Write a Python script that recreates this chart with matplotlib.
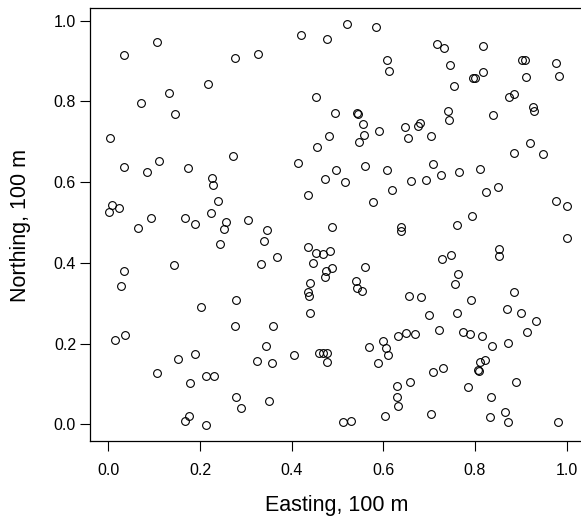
import matplotlib
matplotlib.use('Agg')

import matplotlib.pyplot as plt

plt.rcParams['font.family'] = ['Liberation Sans', 'DejaVu Sans']

# Point locations (easting, northing in units of 100 m)
easting = [
    0.106, 0.034, 0.276, 0.217, 0.132, 0.071, 0.146, 0.004, 0.327, 0.420,
    0.476, 0.521, 0.584, 0.607, 0.613, 0.452, 0.495, 0.543, 0.545, 0.556,
    0.591, 0.648, 0.654, 0.558, 0.546, 0.481, 0.455, 0.718, 0.732, 0.817,
    0.745, 0.902, 0.908, 0.977, 0.983, 0.817, 0.795, 0.800, 0.911, 0.755,
    0.874, 0.884, 0.926, 0.929, 0.742, 0.744, 0.840, 0.676, 0.680, 0.703,
    0.921, 0.884, 0.949, 0.271, 0.111, 0.035, 0.084, 0.173, 0.227, 0.229,
    0.239, 0.008, 0.023, 0.001, 0.092, 0.064, 0.168, 0.188, 0.224, 0.257,
    0.253, 0.305, 0.243, 0.144, 0.035, 0.027, 0.278, 0.414, 0.496, 0.473,
    0.517, 0.561, 0.608, 0.660, 0.619, 0.577, 0.436, 0.346, 0.340, 0.333,
    0.368, 0.488, 0.638, 0.639, 0.436, 0.453, 0.468, 0.484, 0.447, 0.489,
    0.475, 0.473, 0.559, 0.440, 0.436, 0.438, 0.540, 0.543, 0.554, 0.656,
    0.708, 0.694, 0.726, 0.765, 0.810, 0.825, 0.850, 0.977, 1.000, 0.793,
    0.761, 1.000, 0.853, 0.852, 0.748, 0.727, 0.763, 0.757, 0.682, 0.884,
    0.791, 0.202, 0.276, 0.036, 0.015, 0.190, 0.151, 0.107, 0.178, 0.212,
    0.231, 0.279, 0.290, 0.175, 0.167, 0.212, 0.441, 0.360, 0.343, 0.325,
    0.356, 0.406, 0.460, 0.469, 0.478, 0.476, 0.351, 0.511, 0.529, 0.569,
    0.599, 0.606, 0.610, 0.589, 0.633, 0.650, 0.659, 0.629, 0.629, 0.633,
    0.604, 0.869, 0.900, 0.932, 0.914, 0.700, 0.760, 0.668, 0.722, 0.774,
    0.789, 0.815, 0.838, 0.873, 0.811, 0.821, 0.807, 0.808, 0.730, 0.709,
    0.785, 0.890, 0.835, 0.705, 0.865, 0.833, 0.872, 0.980,
]
northing = [
    0.947, 0.914, 0.908, 0.842, 0.821, 0.795, 0.769, 0.708, 0.916, 0.965,
    0.955, 0.992, 0.985, 0.903, 0.875, 0.811, 0.771, 0.772, 0.769, 0.744,
    0.727, 0.737, 0.710, 0.716, 0.700, 0.713, 0.687, 0.943, 0.932, 0.938,
    0.889, 0.902, 0.902, 0.895, 0.862, 0.873, 0.858, 0.858, 0.860, 0.837,
    0.811, 0.818, 0.786, 0.775, 0.777, 0.753, 0.767, 0.740, 0.747, 0.715,
    0.697, 0.672, 0.669, 0.664, 0.653, 0.637, 0.624, 0.634, 0.611, 0.594,
    0.553, 0.543, 0.536, 0.527, 0.512, 0.486, 0.512, 0.497, 0.523, 0.500,
    0.483, 0.507, 0.447, 0.394, 0.379, 0.343, 0.308, 0.647, 0.629, 0.608,
    0.601, 0.640, 0.630, 0.603, 0.581, 0.551, 0.569, 0.482, 0.454, 0.398,
    0.414, 0.490, 0.488, 0.479, 0.440, 0.424, 0.423, 0.429, 0.400, 0.388,
    0.380, 0.366, 0.389, 0.349, 0.328, 0.318, 0.355, 0.339, 0.331, 0.318,
    0.645, 0.606, 0.617, 0.624, 0.632, 0.576, 0.587, 0.552, 0.540, 0.516,
    0.493, 0.461, 0.435, 0.417, 0.419, 0.409, 0.373, 0.347, 0.315, 0.327,
    0.308, 0.290, 0.244, 0.222, 0.209, 0.174, 0.163, 0.128, 0.103, 0.119,
    0.120, 0.067, 0.041, 0.021, 0.008, -0.001, 0.276, 0.243, 0.194, 0.157,
    0.152, 0.172, 0.176, 0.177, 0.177, 0.154, 0.057, 0.006, 0.009, 0.191,
    0.207, 0.190, 0.173, 0.152, 0.218, 0.227, 0.104, 0.095, 0.069, 0.045,
    0.022, 0.287, 0.276, 0.257, 0.230, 0.272, 0.275, 0.223, 0.235, 0.230,
    0.223, 0.220, 0.194, 0.201, 0.154, 0.159, 0.134, 0.132, 0.140, 0.129,
    0.093, 0.106, 0.067, 0.027, 0.032, 0.019, 0.007, 0.007,
]
ticks = [0.0, 0.2, 0.4, 0.6, 0.8, 1.0]
tick_labels = ['0.0', '0.2', '0.4', '0.6', '0.8', '1.0']

fig = plt.figure(figsize=(5.81, 5.16), dpi=100)
# Axes box runs past the right edge of the image, as in the original (cropped)
ax = fig.add_axes([90 / 581, 75 / 516, 495 / 581, 433 / 516])

ax.plot(easting, northing, linestyle='none', marker='o', markersize=5.6,
        markerfacecolor='none', markeredgecolor='black', markeredgewidth=0.8)

ax.set_xlim(-0.04, 1.04)
ax.set_ylim(-0.041, 1.031)
ax.set_xticks(ticks)
ax.set_xticklabels(tick_labels)
ax.set_yticks(ticks)
ax.set_yticklabels(tick_labels)
ax.tick_params(direction='out', length=7, width=0.8, labelsize=11.5)
ax.tick_params(axis='x', pad=8.5)
ax.tick_params(axis='y', pad=3)
for s in ax.spines.values():
    s.set_linewidth(0.9)

fig.text(337 / 581, (516 - 510.5) / 516, 'Easting, 100 m', ha='center',
         va='baseline', fontsize=15.5)
fig.text(21 / 581, 1 - 225 / 516, 'Northing, 100 m', ha='center',
         va='center', rotation=90, fontsize=15.5)

plt.savefig('out.png', dpi=100)
plt.close(fig)
